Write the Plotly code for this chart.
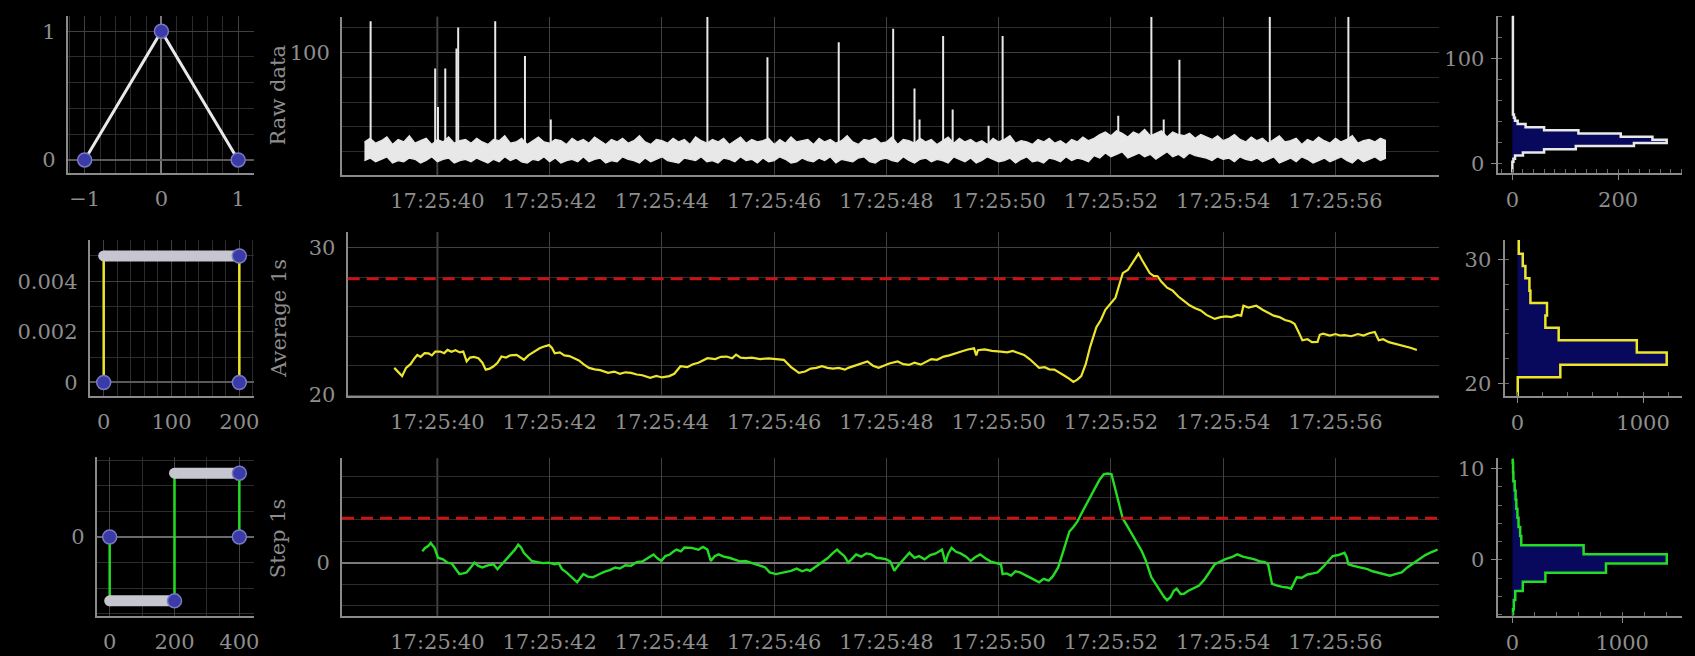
import numpy as np
import pandas as pd
import plotly.graph_objects as go

W, H = 1695, 656
BASE = pd.Timestamp("2024-03-12 17:25:00")

# ---- kernels (left column) ----
TRI_X = [-1, 0, 1]
TRI_Y = [0, 1, 0]
BOX_X = [0, 0, 200, 200]
BOX_Y = [0, 0.005, 0.005, 0]
BOX_BAR_X = [0, 200]
BOX_BAR_Y = [0.005, 0.005]
BOX_MARK_X = [0, 200, 200]
BOX_MARK_Y = [0, 0.005, 0]
STEP_X = [0, 0, 200, 200, 400, 400]
STEP_Y = [0, -0.005, -0.005, 0.005, 0.005, 0]
STEP_BAR_X = [0, 200, None, 200, 400]
STEP_BAR_Y = [-0.005, -0.005, None, 0.005, 0.005]
STEP_MARK_X = [0, 200, 400, 400]
STEP_MARK_Y = [0, -0.005, 0.005, 0]

# ---- raw data (seconds after 17:25:00), noise envelope sampled every 0.1 s ----
RAW_T0, RAW_DT = 38.7, 0.1
RAW_UP = [28, 31, 27, 29, 32, 26, 30, 28, 33, 27, 29, 31, 26, 30, 28, 32, 27, 29, 30, 27,
          31, 28, 26, 30, 29, 33, 27, 28, 31, 26, 29, 32, 28, 27, 30, 29, 26, 31, 28, 30,
          27, 32, 29, 26, 30, 28, 31, 27, 29, 33, 28, 26, 30, 29, 27, 31, 28, 30, 26, 32,
          29, 27, 30, 28, 31, 26, 29, 32, 27, 30, 28, 29, 31, 26, 30, 27, 32, 28, 29, 30,
          26, 31, 28, 30, 27, 29, 33, 28, 26, 30, 29, 31, 27, 28, 32, 26, 30, 29, 27, 31,
          28, 30, 26, 29, 32, 27, 31, 28, 30, 27, 29, 26, 31, 28, 30, 33, 27, 29, 28, 26,
          30, 28, 31, 27, 29, 26, 30, 28, 32, 29,
          31, 34, 36, 33, 37, 35, 32, 36, 34, 38, 33, 35, 37, 32, 36, 34, 33, 35, 31, 34,
          32, 30, 33, 29, 31, 34, 30, 28, 32, 29,
          31, 27, 30, 33, 28, 29, 31, 26, 30, 28, 32, 29, 27, 31, 28, 30, 33, 27, 29, 30,
          28, 31, 29]
RAW_LO = [13, 15, 12, 14, 16, 11, 13, 12, 15, 14, 11, 13, 16, 12, 14, 15, 11, 13, 14, 12,
          15, 13, 11, 14, 12, 16, 13, 15, 12, 11, 14, 13, 16, 12, 15, 11, 13, 14, 12, 16,
          12, 14, 15, 11, 13, 12, 16, 14, 13, 11, 15, 12, 14, 16, 13, 12, 11, 15, 14, 13,
          16, 12, 13, 11, 15, 14, 12, 16, 13, 14, 11, 15, 12, 13, 16, 14, 11, 12, 15, 13,
          12, 15, 13, 16, 11, 14, 13, 12, 15, 16, 12, 11, 14, 15, 13, 12, 16, 13, 11, 14,
          15, 12, 14, 13, 11, 16, 14, 12, 15, 11, 13, 16, 14, 12, 13, 15, 11, 14, 16, 12,
          13, 11, 15, 14, 12, 16, 13, 15, 14, 12,
          17, 15, 19, 16, 18, 20, 15, 17, 19, 16, 18, 14, 17, 20, 16, 18, 15, 19, 17, 16,
          15, 13, 16, 14, 15, 12, 16, 14, 13, 15,
          12, 14, 16, 11, 13, 15, 12, 16, 14, 11, 13, 15, 12, 14, 16, 13, 11, 15, 12, 14,
          16, 13, 15]
SPIKE_T = [38.81, 39.96, 40.01, 40.14, 40.34, 40.37, 41.03, 41.56, 42.02, 44.81, 45.88,
           47.15, 48.12, 48.50, 48.59, 49.01, 49.18, 49.82, 50.07, 52.13, 52.72, 52.94,
           53.22, 54.83, 56.23]
SPIKE_V = [125, 87, 56, 87, 103, 120, 125, 97, 46, 128.5, 96, 108, 119, 71, 46, 113, 54,
           41, 113, 49, 128.5, 46, 94, 128.5, 128.5]
SPIKE_BASE = 22

# ---- average 1s ----
AVG_T = [39.23, 39.30, 39.37, 39.44, 39.52, 39.58, 39.64, 39.70, 39.77, 39.84, 39.90, 39.96,
         40.05, 40.12, 40.18, 40.25, 40.32, 40.40, 40.46, 40.52, 40.58, 40.65, 40.73, 40.80,
         40.86, 40.93, 41.00, 41.07, 41.14, 41.22, 41.30, 41.41, 41.48, 41.54, 41.62, 41.70,
         41.82, 41.90, 41.99, 42.04, 42.09, 42.18, 42.26, 42.35, 42.43, 42.52, 42.60, 42.70,
         42.80, 42.90, 43.04, 43.15, 43.25, 43.35, 43.45, 43.55, 43.65, 43.79, 43.90, 44.00,
         44.13, 44.22, 44.33, 44.45, 44.55, 44.65, 44.81, 44.95, 45.05, 45.15, 45.25, 45.32,
         45.40, 45.49, 45.60, 45.75, 45.90, 46.05, 46.17, 46.30, 46.44, 46.55, 46.65, 46.75,
         46.85, 46.95, 47.05, 47.15, 47.26, 47.32, 47.45, 47.55, 47.66, 47.76, 47.86, 47.95,
         48.05, 48.20, 48.30, 48.40, 48.50, 48.61, 48.72, 48.80, 48.90, 49.02, 49.12, 49.22,
         49.32, 49.45, 49.56, 49.60, 49.63, 49.75, 49.88, 50.04, 50.15, 50.25, 50.35, 50.45,
         50.55, 50.62, 50.72, 50.82, 50.90, 50.99, 51.08, 51.18, 51.26, 51.33, 51.40, 51.47,
         51.55, 51.63, 51.74, 51.82, 51.90, 52.00, 52.08, 52.14, 52.21, 52.30, 52.38, 52.44,
         52.49, 52.55, 52.62, 52.69, 52.76, 52.83, 52.90, 53.00, 53.10, 53.20, 53.30, 53.40,
         53.50, 53.60, 53.70, 53.85, 53.95, 54.05, 54.15, 54.25, 54.32, 54.36, 54.45, 54.59,
         54.70, 54.80, 54.90, 55.00, 55.10, 55.20, 55.27, 55.34, 55.41, 55.50, 55.58, 55.68,
         55.72, 55.78, 55.90, 56.00, 56.08, 56.16, 56.28, 56.40, 56.50, 56.60, 56.70, 56.77,
         56.85, 56.95, 57.04, 57.14, 57.25, 57.35, 57.45]
AVG_V = [21.85, 21.60, 21.29, 21.85, 22.10, 22.45, 22.73, 22.60, 22.85, 22.84, 22.70, 22.95,
         22.96, 22.85, 23.07, 22.95, 23.05, 22.90, 22.96, 22.29, 22.55, 22.60, 22.51, 22.20,
         21.73, 21.80, 21.96, 22.20, 22.62, 22.55, 22.70, 22.73, 22.55, 22.40, 22.70, 22.90,
         23.18, 23.30, 23.40, 23.20, 22.84, 22.90, 22.70, 22.65, 22.51, 22.35, 22.10, 21.85,
         21.75, 21.70, 21.51, 21.60, 21.45, 21.55, 21.51, 21.40, 21.35, 21.18, 21.30, 21.20,
         21.29, 21.45, 21.96, 21.90, 22.10, 22.20, 22.51, 22.45, 22.60, 22.62, 22.50, 22.75,
         22.55, 22.51, 22.55, 22.45, 22.50, 22.45, 22.40, 21.90, 21.51, 21.60, 21.80, 21.85,
         21.96, 21.85, 21.80, 21.85, 21.73, 21.85, 22.00, 22.15, 22.29, 22.00, 21.85, 22.00,
         22.15, 22.29, 22.10, 22.05, 22.20, 22.07, 22.30, 22.45, 22.40, 22.62, 22.70, 22.85,
         22.95, 23.10, 23.18, 22.70, 23.05, 23.10, 23.00, 22.96, 22.90, 23.00, 22.85, 22.73,
         22.45, 22.20, 21.85, 21.90, 21.75, 21.73, 21.55, 21.30, 21.10, 20.90, 21.05, 21.29,
         22.10, 23.30, 24.62, 25.10, 25.80, 26.30, 26.62, 27.40, 28.29, 28.50, 29.00, 29.40,
         29.62, 29.20, 28.70, 28.29, 28.10, 28.07, 27.70, 27.30, 27.10, 26.70, 26.40, 26.10,
         25.90, 25.75, 25.45, 25.18, 25.30, 25.35, 25.30, 25.45, 25.40, 26.07, 25.95, 26.07,
         25.80, 25.60, 25.40, 25.30, 25.10, 25.00, 24.84, 24.30, 23.73, 23.80, 23.60, 23.62,
         24.10, 24.18, 24.05, 24.15, 24.05, 24.07, 24.00, 24.15, 24.05, 24.20, 24.29, 23.73,
         23.80, 23.60, 23.51, 23.45, 23.30, 23.20, 23.07]
AVG_THRESHOLD = 27.9

# ---- step 1s ----
STP_T = [39.73, 39.78, 39.84, 39.88, 39.95, 40.01, 40.10, 40.18, 40.26, 40.33, 40.39, 40.46,
         40.52, 40.60, 40.66, 40.73, 40.80, 40.90, 41.00, 41.07, 41.14, 41.20, 41.30, 41.38,
         41.44, 41.49, 41.54, 41.61, 41.68, 41.78, 41.88, 41.98, 42.09, 42.16, 42.22, 42.30,
         42.38, 42.44, 42.49, 42.55, 42.60, 42.68, 42.77, 42.87, 42.97, 43.07, 43.17, 43.25,
         43.35, 43.45, 43.55, 43.65, 43.75, 43.85, 43.92, 43.99, 44.06, 44.14, 44.20, 44.26,
         44.34, 44.40, 44.53, 44.65, 44.73, 44.81, 44.87, 44.94, 45.01, 45.10, 45.20, 45.30,
         45.40, 45.49, 45.58, 45.68, 45.76, 45.84, 45.92, 46.03, 46.12, 46.20, 46.30, 46.40,
         46.50, 46.58, 46.64, 46.72, 46.85, 46.95, 47.04, 47.12, 47.18, 47.25, 47.32, 47.40,
         47.46, 47.55, 47.64, 47.73, 47.82, 47.90, 48.00, 48.07, 48.14, 48.22, 48.30, 48.41,
         48.50, 48.58, 48.68, 48.78, 48.88, 48.99, 49.05, 49.10, 49.16, 49.24, 49.32, 49.42,
         49.50, 49.58, 49.67, 49.76, 49.86, 49.95, 50.04, 50.07, 50.14, 50.22, 50.30, 50.38,
         50.46, 50.54, 50.62, 50.72, 50.80, 50.89, 50.96, 51.06, 51.16, 51.26, 51.33, 51.40,
         51.50, 51.58, 51.66, 51.74, 51.80, 51.87, 51.94, 52.01, 52.08, 52.14, 52.21, 52.30,
         52.40, 52.48, 52.55, 52.62, 52.72, 52.80, 52.88, 52.95, 53.00, 53.06, 53.12, 53.17,
         53.24, 53.30, 53.38, 53.47, 53.57, 53.66, 53.75, 53.85, 53.95, 54.05, 54.15, 54.25,
         54.35, 54.46, 54.56, 54.66, 54.74, 54.80, 54.87, 54.95, 55.05, 55.14, 55.21, 55.26,
         55.31, 55.40, 55.50, 55.60, 55.68, 55.78, 55.88, 55.95, 56.05, 56.16, 56.20, 56.23,
         56.32, 56.42, 56.50, 56.57, 56.66, 56.76, 56.86, 56.97, 57.08, 57.18, 57.28, 57.38,
         57.45, 57.52, 57.60, 57.70, 57.82]
STP_V = [1.06, 1.36, 1.55, 1.82, 1.36, 0.45, 0.30, 0.00, -0.10, -0.60, -1.06, -1.00,
         -0.91, -0.40, 0.00, -0.30, -0.45, -0.25, -0.15, -0.61, -0.20, 0.15, 0.70, 1.20,
         1.67, 1.40, 0.91, 0.50, 0.15, 0.05, -0.05, 0.00, -0.15, -0.05, -0.61, -0.90,
         -1.30, -1.60, -1.82, -1.40, -1.06, -1.30, -1.36, -1.10, -0.85, -0.70, -0.45, -0.55,
         -0.25, -0.30, 0.05, 0.10, 0.40, 0.76, 0.40, 0.15, 0.60, 0.75, 1.00, 1.21,
         1.05, 1.40, 1.36, 1.20, 1.45, 1.21, 0.15, 0.60, 0.76, 0.55, 0.45, 0.30,
         0.10, 0.15, 0.00, -0.10, -0.30, -0.45, -0.90, -1.06, -0.95, -0.85, -0.76, -0.55,
         -0.80, -0.65, -0.76, -0.45, 0.00, 0.40, 0.85, 1.21, 0.90, 0.61, 0.00, 0.45,
         0.76, 0.55, 0.85, 0.76, 0.45, 0.40, 0.30, 0.10, -0.76, -0.20, 0.30, 0.91,
         0.45, 0.60, 0.30, 0.70, 0.85, 1.21, 0.00, 0.80, 1.36, 1.00, 0.85, 0.55,
         0.15, 0.50, 0.76, 0.40, 0.10, 0.00, -0.15, -1.06, -1.00, -1.20, -0.80, -0.91,
         -1.10, -1.30, -1.55, -1.82, -1.50, -1.67, -1.30, -0.45, 1.20, 2.88, 3.30, 3.79,
         4.80, 5.60, 6.40, 7.12, 7.70, 8.18, 8.25, 8.18, 6.80, 5.50, 4.09, 3.30,
         2.40, 1.70, 1.06, 0.20, -1.36, -2.00, -2.70, -3.20, -3.48, -3.20, -2.60, -2.42,
         -2.90, -2.88, -2.60, -2.40, -2.12, -1.60, -0.90, -0.15, 0.10, 0.35, 0.50, 0.76,
         0.55, 0.45, 0.30, 0.10, 0.05, -0.15, -1.97, -2.10, -2.25, -2.30, -2.42, -1.90,
         -1.36, -1.40, -1.10, -1.00, -0.91, -0.40, 0.20, 0.61, 0.70, 0.91, 0.50, -0.15,
         -0.30, -0.40, -0.50, -0.61, -0.80, -0.95, -1.10, -1.21, -1.05, -0.91, -0.45, -0.10,
         0.20, 0.45, 0.70, 0.95, 1.21]
STP_THRESHOLD = 4.1

# ---- histograms (bin edges / counts) ----
RAW_HIST_EDGES = [-8.4, 2, 5, 8, 11, 14, 17, 20, 23, 26, 29, 32, 35, 38, 41, 44, 47, 80, 110, 141]
RAW_HIST_COUNTS = [0, 2, 5, 20, 60, 120, 230, 292, 265, 205, 125, 60, 25, 10, 5, 3, 1, 1, 1]
AVG_HIST_EDGES = [19.0, 20.5, 21.5, 22.5, 23.5, 24.5, 25.5, 26.5, 27.5, 28.5, 29.5, 30.5, 31.5]
AVG_HIST_COUNTS = [2, 341, 1188, 950, 328, 222, 235, 103, 95, 63, 42, 10]
STP_HIST_EDGES = [-6.1, -5.4, -4.4, -3.4, -2.4, -1.4, -0.4, 0.6, 1.6, 2.6, 3.6, 4.6, 5.6,
                  6.6, 7.6, 8.6, 9.6, 10.6, 11.1]
STP_HIST_COUNTS = [5, 12, 25, 94, 300, 852, 1406, 648, 80, 70, 55, 45, 35, 28, 20, 8, 5, 2]

WHITE = "#e8e8e8"
YELLOW = "#ece52c"
GREEN = "#25dc25"
RED = "#c81414"
NAVY = "#08085c"
BLUE = "#3a3aa8"
BAR_GRAY = "#c6c6d0"
FONT = dict(family="DejaVu Serif", size=21, color="#8e8e8e")

# vertical nudges (px) for the 2nd and 3rd rows of panels
R2, R3 = 5.5, 7


def ts(sec):
    return BASE + pd.to_timedelta(np.asarray(sec, dtype=float), unit="s")


def stairs(edges, counts):
    xs, ys = [0], [edges[0]]
    for i, c in enumerate(counts):
        xs += [c, c]
        ys += [edges[i], edges[i + 1]]
    xs.append(0)
    ys.append(edges[-1])
    return xs, ys


def dx(a, b):
    return [a / W, b / W]


def dy(top, bottom):
    return [1 - bottom / H, 1 - top / H]


fig = go.Figure()

# left kernels
fig.add_trace(go.Scatter(x=TRI_X, y=TRI_Y, mode="lines", line=dict(color=WHITE, width=3),
                         xaxis="x", yaxis="y"))
fig.add_trace(go.Scatter(x=TRI_X, y=TRI_Y, mode="markers", xaxis="x", yaxis="y",
                         marker=dict(color=BLUE, size=14, line=dict(color="#7a7ac0", width=1.5))))

fig.add_trace(go.Scatter(x=BOX_X, y=BOX_Y, mode="lines", line=dict(color=YELLOW, width=2.5),
                         xaxis="x4", yaxis="y4"))
fig.add_trace(go.Scatter(x=BOX_BAR_X, y=BOX_BAR_Y, mode="lines+markers", xaxis="x4", yaxis="y4",
                         line=dict(color=BAR_GRAY, width=11), marker=dict(color=BAR_GRAY, size=11)))
fig.add_trace(go.Scatter(x=BOX_MARK_X, y=BOX_MARK_Y, mode="markers", xaxis="x4", yaxis="y4",
                         marker=dict(color=BLUE, size=14, line=dict(color="#7a7ac0", width=1.5))))

fig.add_trace(go.Scatter(x=STEP_X, y=STEP_Y, mode="lines", line=dict(color=GREEN, width=2.5),
                         xaxis="x7", yaxis="y7"))
fig.add_trace(go.Scatter(x=STEP_BAR_X, y=STEP_BAR_Y, mode="lines+markers", xaxis="x7", yaxis="y7",
                         line=dict(color=BAR_GRAY, width=11), marker=dict(color=BAR_GRAY, size=11)))
fig.add_trace(go.Scatter(x=STEP_MARK_X, y=STEP_MARK_Y, mode="markers", xaxis="x7", yaxis="y7",
                         marker=dict(color=BLUE, size=14, line=dict(color="#7a7ac0", width=1.5))))

# raw data
raw_t = ts(RAW_T0 + RAW_DT * np.arange(len(RAW_UP)))
fig.add_trace(go.Scatter(x=raw_t, y=RAW_LO, mode="lines", line=dict(color=WHITE, width=1.2),
                         xaxis="x2", yaxis="y2"))
fig.add_trace(go.Scatter(x=raw_t, y=RAW_UP, mode="lines", line=dict(color=WHITE, width=1.2),
                         fill="tonexty", fillcolor=WHITE, xaxis="x2", yaxis="y2"))
sx, sy = [], []
for t, v in zip(ts(SPIKE_T), SPIKE_V):
    sx += [t, t, None]
    sy += [SPIKE_BASE, v, None]
fig.add_trace(go.Scatter(x=sx, y=sy, mode="lines", line=dict(color=WHITE, width=2),
                         xaxis="x2", yaxis="y2"))

# average / step
fig.add_trace(go.Scatter(x=ts(AVG_T), y=AVG_V, mode="lines", line=dict(color=YELLOW, width=2.2),
                         xaxis="x5", yaxis="y5"))
fig.add_trace(go.Scatter(x=ts(STP_T), y=STP_V, mode="lines", line=dict(color=GREEN, width=2.4),
                         xaxis="x8", yaxis="y8"))

# histograms
for edges, counts, col, ax in [(RAW_HIST_EDGES, RAW_HIST_COUNTS, WHITE, "3"),
                               (AVG_HIST_EDGES, AVG_HIST_COUNTS, YELLOW, "6"),
                               (STP_HIST_EDGES, STP_HIST_COUNTS, GREEN, "9")]:
    hx, hy = stairs(edges, counts)
    fig.add_trace(go.Scatter(x=hx, y=hy, mode="lines", fill="toself", fillcolor=NAVY,
                             line=dict(color=col, width=2.5), xaxis="x" + ax, yaxis="y" + ax))

# thresholds and the bright 17:25:40 line
shapes = [
    dict(type="line", xref="x5 domain", x0=0, x1=1, yref="y5", y0=AVG_THRESHOLD, y1=AVG_THRESHOLD,
         line=dict(color=RED, width=3, dash="12px,7px")),
    dict(type="line", xref="x8 domain", x0=0, x1=1, yref="y8", y0=STP_THRESHOLD, y1=STP_THRESHOLD,
         line=dict(color=RED, width=3, dash="12px,7px")),
]
for ax in ["2", "5", "8"]:
    shapes.append(dict(type="line", xref="x" + ax, x0=ts(40), x1=ts(40), yref="y" + ax + " domain",
                       y0=0, y1=1, layer="below", line=dict(color="#7c7c7c", width=1.5)))

GRID = "#404040"
MINOR = "#2c2c2c"
base_ax = dict(showline=True, linecolor="#8a8a8a", linewidth=2, tickfont=FONT, showgrid=True,
               gridcolor=GRID, gridwidth=1, zeroline=False, ticks="", ticklabelstandoff=6)
hist_ax = dict(showline=True, linecolor="#8a8a8a", linewidth=2, tickfont=FONT, showgrid=False,
               zeroline=False, ticks="outside", ticklen=5, tickcolor="#8a8a8a",
               ticklabelstandoff=2)


def axis(base, **kw):
    d = dict(base)
    d.update(kw)
    return d


t_range = [ts(38.30), ts(57.84)]
t_range2 = [ts(38.40), ts(57.84)]
time_kw = dict(type="date", tickformat="%H:%M:%S", dtick=2000, tick0=ts(40))

layout = dict(
    width=W, height=H, paper_bgcolor="black", plot_bgcolor="black", showlegend=False,
    margin=dict(l=0, r=0, t=0, b=0), shapes=shapes,
    # P1
    xaxis=axis(base_ax, domain=dx(68, 255), range=[-1.22, 1.21], dtick=1, anchor="y",
               zeroline=True, zerolinecolor="#7a7a7a", zerolinewidth=1.5,
               minor=dict(dtick=0.2, showgrid=True, gridcolor=MINOR)),
    yaxis=axis(base_ax, domain=dy(15, 175), range=[-0.1, 1.12], dtick=1, anchor="x",
               zeroline=True, zerolinecolor="#5a5a5a", zerolinewidth=1.5,
               minor=dict(dtick=0.2, showgrid=True, gridcolor=MINOR)),
    # M1
    xaxis2=axis(base_ax, domain=dx(343, 1443), range=t_range, anchor="y2", **time_kw),
    yaxis2=axis(base_ax, domain=dy(16, 177), range=[1.6, 128.6], dtick=100, anchor="x2",
                minor=dict(dtick=20, showgrid=True, gridcolor=MINOR)),
    # H1
    xaxis3=axis(hist_ax, domain=dx(1502, 1687), range=[-28, 321], dtick=200, anchor="y3",
                minor=dict(dtick=20, ticks="inside", ticklen=4, tickcolor="#6a6a6a")),
    yaxis3=axis(hist_ax, domain=dy(15, 175), range=[-8.4, 141], dtick=100, anchor="x3",
                minor=dict(dtick=20, ticks="inside", ticklen=4, tickcolor="#6a6a6a")),
    # P2
    xaxis4=axis(base_ax, domain=dx(90, 255), range=[-20.6, 222], dtick=100, anchor="y4",
                minor=dict(dtick=20, showgrid=True, gridcolor=MINOR)),
    yaxis4=axis(base_ax, domain=dy(238 + R2, 397 + R2), range=[-0.00054, 0.00563], dtick=0.002,
                anchor="x4", zeroline=True, zerolinecolor="#5a5a5a", zerolinewidth=1.5,
                minor=dict(dtick=0.001, showgrid=True, gridcolor=MINOR)),
    # M2
    xaxis5=axis(base_ax, domain=dx(348.7, 1443), range=t_range2, anchor="y5", **time_kw),
    yaxis5=axis(base_ax, domain=dy(230 + R2, 397 + R2), range=[19.93, 31.07], dtick=10, anchor="x5",
                minor=dict(dtick=2, showgrid=True, gridcolor=MINOR)),
    # H2
    xaxis6=axis(hist_ax, domain=dx(1509, 1687), range=[-103, 1310], dtick=1000, anchor="y6",
                minor=dict(dtick=200, ticks="inside", ticklen=4, tickcolor="#6a6a6a")),
    yaxis6=axis(hist_ax, domain=dy(238 + R2, 397 + R2), range=[18.97, 31.6], dtick=10, anchor="x6",
                minor=dict(dtick=2, ticks="inside", ticklen=4, tickcolor="#6a6a6a")),
    # P3
    xaxis7=axis(base_ax, domain=dx(97, 255), range=[-40, 446], dtick=200, anchor="y7",
                minor=dict(dtick=100, showgrid=True, gridcolor=MINOR)),
    yaxis7=axis(base_ax, domain=dy(458 + R3, 619 + R3), range=[-0.00615, 0.00623], dtick=0.01,
                anchor="x7", zeroline=True, zerolinecolor="#6a6a6a", zerolinewidth=1.5,
                minor=dict(dtick=0.002, showgrid=True, gridcolor=MINOR)),
    # M3
    xaxis8=axis(base_ax, domain=dx(343, 1443), range=t_range, anchor="y8", **time_kw),
    yaxis8=axis(base_ax, domain=dy(459 + R3, 619 + R3), range=[-4.9, 9.64], dtick=10, anchor="x8",
                zeroline=True, zerolinecolor="#7a7a7a", zerolinewidth=2,
                minor=dict(dtick=2, showgrid=True, gridcolor=MINOR)),
    # H3
    xaxis9=axis(hist_ax, domain=dx(1502, 1687), range=[-136, 1545], dtick=1000, anchor="y9",
                minor=dict(dtick=200, ticks="inside", ticklen=4, tickcolor="#6a6a6a")),
    yaxis9=axis(hist_ax, domain=dy(459 + R3, 619 + R3), range=[-6.1, 11.1], dtick=10, anchor="x9",
                minor=dict(dtick=2, ticks="inside", ticklen=4, tickcolor="#6a6a6a")),
    annotations=[
        dict(text=txt, x=279 / W, y=1 - yc / H, xref="paper", yref="paper", showarrow=False,
             textangle=-90, font=FONT, xanchor="center", yanchor="middle")
        for txt, yc in [("Raw data", 96), ("Average 1s", 318 + R2), ("Step 1s", 540 + R3)]
    ],
)
fig.update_layout(**layout)

# the page body has a default 8px white margin; remove it so the figure fills the window
fig.write_html("out.html", config={"displayModeBar": False},
               post_script="document.body.style.margin='0';document.body.style.background='black';")
